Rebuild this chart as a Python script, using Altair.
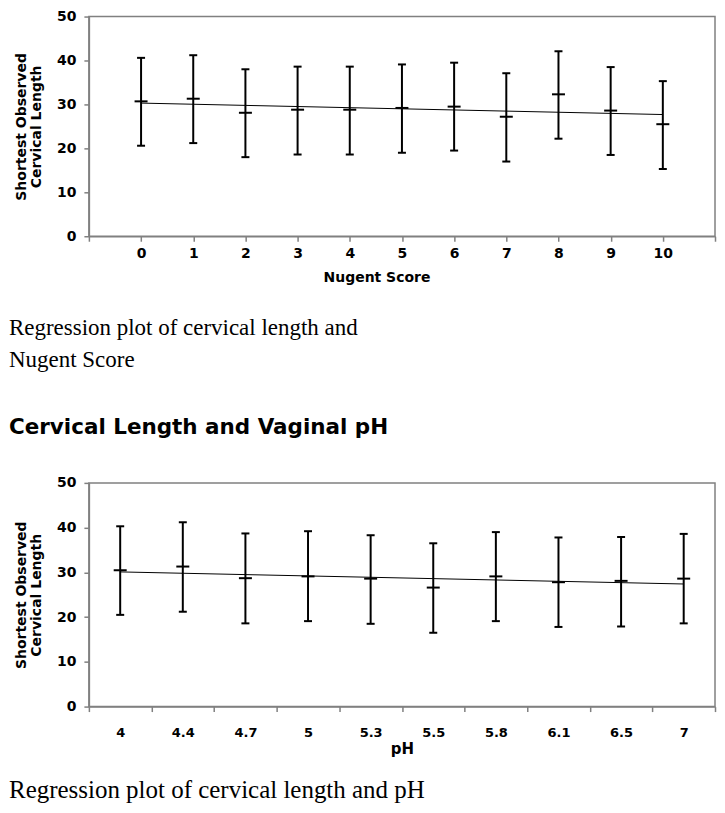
import altair as alt
import pandas as pd

# ---------------- data ----------------
nugent_scores = [0, 1, 2, 3, 4, 5, 6, 7, 8, 9, 10]
nugent_mean = [30.7, 31.3, 28.1, 28.8, 28.8, 29.2, 29.5, 27.2, 32.3, 28.6, 25.5]
nugent_low = [20.6, 21.2, 18.0, 18.6, 18.6, 19.0, 19.5, 17.0, 22.2, 18.5, 15.3]
nugent_high = [40.6, 41.2, 38.0, 38.6, 38.6, 39.1, 39.5, 37.1, 42.1, 38.5, 35.3]
nugent_fit_x = [0, 10]
nugent_fit_y = [30.3, 27.7]

ph_labels = ["4", "4.4", "4.7", "5", "5.3", "5.5", "5.8", "6.1", "6.5", "7"]
ph_mean = [30.5, 31.3, 28.7, 29.1, 28.6, 26.6, 29.1, 27.8, 28.1, 28.6]
ph_low = [20.5, 21.2, 18.6, 19.1, 18.5, 16.5, 19.1, 17.8, 17.9, 18.6]
ph_high = [40.3, 41.2, 38.7, 39.2, 38.3, 36.5, 39.0, 37.8, 37.9, 38.6]
ph_fit_x = ["4", "7"]
ph_fit_y = [30.1, 27.4]

y_ticks = [0, 10, 20, 30, 40, 50]
y_title = ["Shortest Observed", "Cervical Length"]
x1_title = "Nugent Score"
x2_title = "pH"
caption1 = ["Regression plot of cervical length and", "Nugent Score"]
heading = "Cervical Length and Vaginal pH"
caption2 = ["Regression plot of cervical length and pH"]

SANS = "DejaVu Sans"
SERIF = "Liberation Serif"
GRAY = "#808080"
LEFT = -80  # left edge of the page text, relative to the plot area

# ---------------- top chart ----------------
df1 = pd.DataFrame({"score": nugent_scores, "mean": nugent_mean,
                    "low": nugent_low, "high": nugent_high})
fit1 = pd.DataFrame({"score": nugent_fit_x, "fit": nugent_fit_y})

xs1 = alt.Scale(domain=[-1, 11], nice=False, zero=False)
ys = alt.Scale(domain=[0, 50], nice=False)

yaxis = alt.Axis(values=y_ticks, title=y_title, grid=False,
                 labelFont=SANS, labelFontSize=14, labelFontWeight="bold",
                 labelColor="black", labelPadding=8,
                 titleFont=SANS, titleFontSize=14, titleFontWeight="bold",
                 titleColor="black", titleLineHeight=15, titlePadding=13,
                 domainColor=GRAY, domainWidth=1.5, tickColor=GRAY,
                 tickWidth=1.5, tickSize=5)
xaxis1 = alt.Axis(values=list(range(-1, 12)), title=x1_title, grid=False,
                  labelExpr="datum.value < 0 || datum.value > 10 ? '' : datum.label",
                  labelFont=SANS, labelFontSize=14, labelFontWeight="bold",
                  labelColor="black", labelPadding=5, labelFlush=False,
                  titleFont=SANS, titleFontSize=14, titleFontWeight="bold",
                  titleColor="black", titlePadding=10, titleX=288,
                  domainColor=GRAY, domainWidth=1.5, tickColor=GRAY,
                  tickWidth=1.5, tickSize=5)

X1 = alt.X("score:Q", scale=xs1, axis=xaxis1)

def Yq(field):
    return alt.Y(field, type="quantitative", scale=ys, axis=yaxis)

b1 = alt.Chart(df1)
rule1 = b1.mark_rule(color="black", strokeWidth=2).encode(x=X1, y=Yq("low"), y2="high:Q")
lo1 = b1.mark_tick(orient="horizontal", color="black", size=8, thickness=2, opacity=1).encode(x=X1, y=Yq("low"))
hi1 = b1.mark_tick(orient="horizontal", color="black", size=8, thickness=2, opacity=1).encode(x=X1, y=Yq("high"))
mn1 = b1.mark_tick(orient="horizontal", color="black", size=13, thickness=2, opacity=1).encode(x=X1, y=Yq("mean"))
ln1 = alt.Chart(fit1).mark_line(color="black", strokeWidth=1).encode(x=X1, y=Yq("fit"))

top = alt.layer(rule1, lo1, hi1, mn1, ln1).properties(width=627, height=220)

# ---------------- bottom chart ----------------
df2 = pd.DataFrame({"ph": ph_labels, "mean": ph_mean, "low": ph_low, "high": ph_high})
fit2 = pd.DataFrame({"ph": ph_fit_x, "fit": ph_fit_y})
cap2 = pd.DataFrame({"t": caption2})

xs2 = alt.Scale(type="band", domain=ph_labels, paddingInner=0, paddingOuter=0)
xaxis2 = alt.Axis(title=x2_title, grid=False, labelAngle=0, tickBand="extent",
                  labelFont=SANS, labelFontSize=13, labelFontWeight="bold",
                  labelColor="black", labelPadding=15,
                  titleFont=SANS, titleFontSize=15, titleFontWeight="bold",
                  titleColor="black", titlePadding=2,
                  domainColor=GRAY, domainWidth=1.5, tickColor=GRAY,
                  tickWidth=1.5, tickSize=5)
X2 = alt.X("ph:N", scale=xs2, axis=xaxis2, sort=None)

b2 = alt.Chart(df2)
rule2 = b2.mark_rule(color="black", strokeWidth=2).encode(x=X2, y=Yq("low"), y2="high:Q")
lo2 = b2.mark_tick(orient="horizontal", color="black", size=8, thickness=2, opacity=1).encode(x=X2, y=Yq("low"))
hi2 = b2.mark_tick(orient="horizontal", color="black", size=8, thickness=2, opacity=1).encode(x=X2, y=Yq("high"))
mn2 = b2.mark_tick(orient="horizontal", color="black", size=13, thickness=2, opacity=1).encode(x=X2, y=Yq("mean"))
ln2 = alt.Chart(fit2).mark_line(color="black", strokeWidth=1).encode(x=X2, y=Yq("fit"))
txt2 = alt.Chart(cap2).mark_text(align="left", baseline="alphabetic", font=SERIF,
                                 fontSize=25, color="black").encode(
    text="t:N", x=alt.value(LEFT), y=alt.value(316))

bottom = alt.layer(rule2, lo2, hi2, mn2, ln2, txt2).properties(
    width=627, height=224,
    title=alt.TitleParams(text=caption1, subtitle=heading, anchor="start",
                          frame="group", dx=LEFT, font=SERIF, fontSize=23,
                          fontWeight="normal", lineHeight=32, color="black",
                          subtitleFont=SANS, subtitleFontSize=21.5,
                          subtitleFontWeight="bold", subtitleColor="black",
                          subtitlePadding=46, offset=37))

pad = {"top": 0, "bottom": 0, "left": 0, "right": 0}

chart = alt.vconcat(top, bottom, spacing=30).properties(
    padding=pad
).configure_view(
    stroke=GRAY, strokeWidth=1.5
).configure_concat(spacing=30)

chart.save("out.html", embed_options={"renderer": "svg", "actions": False})
